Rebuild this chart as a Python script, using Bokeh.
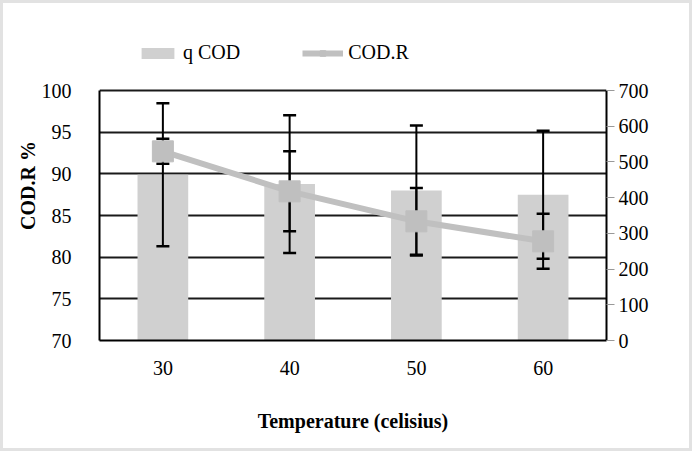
from bokeh.plotting import figure
from bokeh.models import (ColumnDataSource, FactorRange, Range1d, LinearAxis,
                          FixedTicker, Legend, LegendItem)
from bokeh.embed import file_html
from bokeh.resources import INLINE

# Data
temps = ["30", "40", "50", "60"]
q_cod = [464, 438, 420, 408]          # right axis (0-700)
q_cod_err = [200, 193, 182, 179]
cod_r = [92.7, 87.9, 84.3, 81.9]      # left axis, %
cod_r_err = [1.5, 4.8, 4.0, 3.3]
left_ticks = [70, 75, 80, 85, 90, 95, 100]
right_ticks = [0, 100, 200, 300, 400, 500, 600, 700]

FONT = "Liberation Serif"

src = ColumnDataSource(dict(
    t=temps, q=q_cod,
    q_lo=[v - e for v, e in zip(q_cod, q_cod_err)],
    q_hi=[v + e for v, e in zip(q_cod, q_cod_err)],
    r=cod_r,
    r_lo=[v - e for v, e in zip(cod_r, cod_r_err)],
    r_hi=[v + e for v, e in zip(cod_r, cod_r_err)],
))

# The frame runs a little above 100 % so the legend has room inside it;
# axis lines and grid stop at the top tick, the right scale keeps the same ratio.
Y_TOP = 107.2
p = figure(width=692, height=451, x_range=FactorRange(*temps),
           y_range=Range1d(70, Y_TOP), output_backend="svg",
           toolbar_location=None, min_border_left=96, min_border_right=89,
           min_border_top=27, min_border_bottom=114)
p.extra_y_ranges = {"q": Range1d(0, (Y_TOP - 70) * 700 / 30)}

p.outline_line_color = None
p.background_fill_color = "white"
p.border_fill_color = "white"

# axes
p.yaxis.ticker = FixedTicker(ticks=left_ticks)
p.yaxis.bounds = (70, 100)
p.yaxis.axis_label = "COD.R %"
p.xaxis.axis_label = "Temperature (celisius)"
for ax in (p.xaxis[0], p.yaxis[0]):
    ax.major_label_text_font = FONT
    ax.major_label_text_font_size = "20px"
    ax.major_label_text_color = "black"
    ax.axis_label_text_font = FONT
    ax.axis_label_text_font_size = "20px"
    ax.axis_label_text_font_style = "bold"
    ax.axis_label_text_color = "black"
    ax.major_tick_line_color = None
    ax.minor_tick_line_color = None
    ax.axis_line_color = "black"
    ax.axis_line_width = 2
p.yaxis.major_label_standoff = 22
p.yaxis.axis_label_standoff = 0
p.xaxis.major_label_standoff = 14
p.xaxis.axis_label_standoff = 32

ry = LinearAxis(y_range_name="q", ticker=FixedTicker(ticks=right_ticks),
                bounds=(0, 700))
ry.major_label_text_font = FONT
ry.major_label_text_font_size = "20px"
ry.major_label_text_color = "black"
ry.major_tick_line_color = "#999999"
ry.major_tick_out = 8
ry.major_tick_in = 0
ry.minor_tick_line_color = None
ry.axis_line_color = "black"
ry.axis_line_width = 2
ry.major_label_standoff = 4
p.add_layout(ry, "right")

p.xgrid.grid_line_color = None
p.ygrid.ticker = FixedTicker(ticks=left_ticks)
p.ygrid.grid_line_color = "#1a1a1a"
p.ygrid.grid_line_width = 2

# bars (q COD) with error bars
bars = p.vbar(x="t", top="q", bottom=0, width=0.4, source=src,
              y_range_name="q", fill_color="#d0d0d0", line_color=None)
p.segment(x0="t", y0="q_lo", x1="t", y1="q_hi", source=src, y_range_name="q",
          line_color="black", line_width=2)
p.scatter(x="t", y="q_lo", source=src, y_range_name="q", marker="dash",
          size=13, line_color="black", line_width=2.5)
p.scatter(x="t", y="q_hi", source=src, y_range_name="q", marker="dash",
          size=13, line_color="black", line_width=2.5)

# COD.R error bars, line and markers
p.segment(x0="t", y0="r_lo", x1="t", y1="r_hi", source=src,
          line_color="black", line_width=2)
p.scatter(x="t", y="r_lo", source=src, marker="dash", size=13,
          line_color="black", line_width=2.5)
p.scatter(x="t", y="r_hi", source=src, marker="dash", size=13,
          line_color="black", line_width=2.5)
ln = p.line(x="t", y="r", source=src, line_color="#c0c0c0", line_width=6)
mk = p.scatter(x="t", y="r", source=src, marker="square", size=21,
               fill_color="#bfbfbf", line_color="#bfbfbf")

legend = Legend(items=[LegendItem(label="q COD", renderers=[bars]),
                       LegendItem(label="COD.R", renderers=[ln, mk])],
                orientation="horizontal", location=(38, 276),
                label_text_font=FONT, label_text_font_size="20px",
                label_text_color="black", glyph_width=41, glyph_height=14,
                label_standoff=5, spacing=62, padding=0, margin=0,
                border_line_color=None, background_fill_alpha=0)
p.add_layout(legend, "center")

p.styles = {"border": "3px solid #e2e2e2"}

open("out.html", "w").write(file_html(p, INLINE))
